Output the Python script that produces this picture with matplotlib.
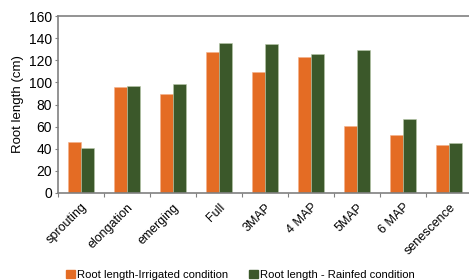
import numpy as np
import matplotlib.pyplot as plt
from matplotlib.patches import Patch

plt.rcParams['font.family'] = ['Liberation Sans', 'DejaVu Sans']

stages = ["sprouting", "elongation", "emerging", "Full", "3MAP", "4 MAP",
          "5MAP", "6 MAP", "senescence"]
irrigated = [46, 95.5, 89.5, 127.5, 109.5, 122.5, 61, 52, 43]
rainfed = [41, 96.5, 98.5, 135.5, 134.5, 125.5, 129.5, 67, 45]

orange = "#E46C24"
green = "#3B582A"
grey = "#808080"

fig = plt.figure(figsize=(4.69, 2.8), dpi=100)
ax = fig.add_axes([58 / 469, 87 / 280, 414 / 469, 177 / 280])

x = np.arange(len(stages))
w = 0.285
ax.bar(x - w / 2, irrigated, w, color=orange, edgecolor="#F4B08A", linewidth=0.4)
ax.bar(x + w / 2, rainfed, w, color=green, edgecolor="#B8C8A8", linewidth=0.4)

ax.set_xlim(-0.5, len(stages) - 0.5)
ax.set_ylim(0, 160)
ax.set_yticks(range(0, 161, 20))
ax.tick_params(axis="y", labelsize=10, length=2.5, color=grey, width=0.8, pad=2)

ax.set_xticks(x)
ax.set_xticklabels(stages, rotation=45, ha="right", rotation_mode="anchor", fontsize=9)
ax.tick_params(axis="x", which="major", length=0, pad=6)
ax.set_xticks(np.arange(-0.5, len(stages), 1), minor=True)
ax.tick_params(axis="x", which="minor", length=3, color=grey, width=0.8)

for side in ["top", "left", "bottom", "right"]:
    ax.spines[side].set_color(grey)
    ax.spines[side].set_linewidth(1.2)

ax.set_ylabel("Root length (cm)", fontsize=9.5, labelpad=3)

handles = [Patch(color=orange, label="Root length-Irrigated condition"),
           Patch(color=green, label="Root length - Rainfed condition")]
fig.legend(handles=handles, loc="lower left", bbox_to_anchor=(56 / 469, -0.035),
           ncol=2, frameon=False, fontsize=8.1, handlelength=0.75, handleheight=0.75,
           handletextpad=0.2, columnspacing=1.9)

fig.savefig("out.png", dpi=100)
